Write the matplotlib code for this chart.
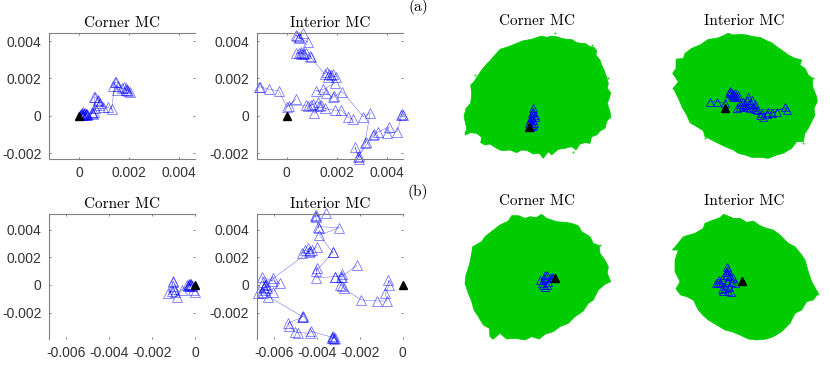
import numpy as np
import matplotlib
matplotlib.use('Agg')
import matplotlib.pyplot as plt

W, H = 830, 382
BLUE = '#0000ff'
GREEN = '#00cc00'
nan = float('nan')

# left panels, values in units of 1e-3
a_corner_x = [0.02, 0.09, 0.16, 0.19, 0.27, 0.12, 0.22, 0.05, 0.15, 0.25, 0.10, 0.32, 0.20, 0.30, 0.49, 0.59, 0.55, 0.52, 0.63, 0.60, 0.62, 0.76, 0.74, 0.83, 0.80, 0.96, 1.16, 1.29, 1.43, 1.45, 1.36, 1.56, 1.49, 1.69, 1.87, 1.90, 1.96, 1.79, 1.85, 2.03]
a_corner_y = [0.05, 0.12, 0.21, 0.09, 0.12, 0.05, 0.15, 0.10, 0.02, 0.05, 0.16, 0.04, 0.08, 0.10, 0.16, 0.21, 0.12, 0.18, 0.39, 1.02, 1.00, 0.84, 0.78, 0.66, 0.60, 0.48, 0.45, 0.34, 1.82, 1.78, 1.59, 1.59, 1.38, 1.46, 1.46, 1.40, 1.34, 1.52, 1.36, 1.29]

a_inner_x = [-1.12, -1.05, -0.71, -0.31, 0, 0.36, 0.09, 0.77, 0.85, 1.04, 0.98, 1.24, 1.37, 1.30, 1.10, 1.51, 1.91, 2.18, 2.45, 2.65, nan,
             0.47, 0.36, 0.42, 0.63, 0.50, 0.84, 0.63, 0.55, 0.36, 0.57, 0.50, 0.70, 0.77, 0.97, 0.92, 1.51, 1.60, 1.85, 1.70, 1.78, 1.98, 1.65, 1.91, 1.44, 1.17, 1.58, 1.85, 1.90, 2.22,
             3.06, 3.33, 3.12, 3.15, 2.86, 2.72, 2.90, 2.88, 3.46, 3.50, 3.66, 4.07, 4.00, 4.40, 4.61, 4.58, 4.66]
a_inner_y = [1.52, 1.55, 1.41, 1.34, 0.45, 0.89, 0.52, 0.57, 0.50, 0.63, 0.55, 0.75, 0.57, 0.50, 0.13, 0.39, 0.30, 0.30, -0.09, -0.20, nan,
             4.20, 4.32, 4.25, 4.41, 4.15, 3.96, 3.38, 3.30, 3.34, 3.43, 3.35, 3.30, 3.34, 3.16, 3.20, 2.23, 2.32, 2.23, 2.25, 2.18, 2.09, 2.10, 1.73, 1.41, 1.34, 1.20, 0.98, 1.05, 1.29,
             -0.05, 0.16, -1.48, -1.40, -2.20, -1.66, -2.29, -2.15, -1.04, -0.98, -0.86, -0.59, -0.95, -0.86, 0.09, 0.05, 0.03]

b_corner_x = [-0.08, 0, -0.15, -0.23, -0.30, -0.20, -0.25, -0.35, -0.28, -0.18, -0.33, -0.62, -0.85, -0.93, -1.24, -1.09, -1.00, -1.04, -1.04, -1.02]
b_corner_y = [-0.36, -0.48, -0.05, 0.05, 0, 0.10, -0.05, 0.02, 0.08, -0.02, -0.05, -0.36, -0.84, -0.48, -0.60, -0.43, -0.30, -0.10, 0.29, 0.20]

b_inner_x = [-0.68, -0.62, -0.81, -0.73, -1.20, -1.93, -2.75, -2.80, -2.91, -2.85, -3.14, -2.80, -2.82, -2.13, nan,
             -3.14, -4.04, -4.00, -4.02, -3.22, -3.25, -3.87, -2.94, -3.92, -3.90, -4.07, -4.02, -4.05, -3.58, nan,
             -4.00, -4.23, -4.39, -4.30, -4.70, -4.54, -4.35, -6.02, -6.10, -6.49, -6.41, -6.35, -6.45, -6.72, -6.56, -6.50, -6.40, -6.02, -5.71, -6.56, -6.33, -6.25,
             -4.65, -4.62, -4.68, -5.32, -5.28, -5.01, -4.85, -4.31, -4.28, -3.22, -3.29, -3.15, -3.25, -3.18, -3.30]
b_inner_y = [0.36, 0, -0.60, -1.16, -1.16, -1.08, -0.24, -0.10, 0, 0.60, 0.60, 0.77, 0.60, 1.45, nan,
             0.60, 0.53, 1.20, 1.00, 2.41, 2.35, 3.61, 4.14, 4.22, 4.15, 5.01, 5.05, 4.95, 5.18, nan,
             2.72, 2.53, 2.65, 2.45, 2.29, 2.53, 2.40, 0.48, 0.30, 0.24, 0, 0.10, -0.15, -0.60, -0.48, -0.55, -0.35, -0.48, 0.12, 0.60, -0.24, -0.84,
             -2.29, -2.25, -2.32, -2.77, -3.00, -3.37, -3.45, -3.49, -3.35, -3.81, -3.86, -3.80, -3.72, -3.88, -3.75]

# right panels (arbitrary units)
cloud_a1_x = [245, 262, 275, 290, 305, 320, 335, 350, 365, 380, 395, 405, 420, 432, 440, 438, 450, 455, 462, 470, 475, 472, 482, 478, 472, 480, 482, 470, 465, 452, 440, 425, 420, 405, 390, 378, 365, 345, 325, 305, 295, 280, 268, 250, 232, 215, 200, 180, 155, 140, 120, 105, 92, 95, 80, 62, 45, 50, 42, 48, 62, 65, 62, 72, 85, 95, 110, 122, 135, 150, 175, 200, 220]
cloud_a1_y = [118, 112, 108, 112, 108, 110, 115, 118, 118, 128, 130, 130, 140, 142, 152, 165, 180, 195, 210, 232, 250, 265, 278, 295, 310, 335, 350, 365, 385, 392, 405, 410, 430, 428, 432, 450, 440, 445, 448, 465, 455, 475, 460, 462, 452, 450, 458, 450, 452, 445, 432, 435, 428, 412, 400, 398, 405, 385, 350, 325, 310, 280, 255, 245, 225, 210, 192, 180, 165, 148, 140, 130, 122]
speck_a1_x = [315, 425, 475, 480, 370, 45, 45, 75]
speck_a1_y = [100, 135, 235, 350, 455, 395, 340, 225]
walk_a1_x = [248, 245, 255, 250, 240, 248, 240, 250, 255, 245, 238, 242, 252, 246]
walk_a1_y = [325, 340, 345, 335, 360, 375, 380, 360, 352, 350, 370, 355, 368, 378]
start_a1 = (238, 382)

cloud_a2_x = [265, 280, 300, 320, 340, 360, 380, 395, 410, 425, 445, 465, 485, 480, 495, 505, 518, 518, 530, 532, 522, 525, 515, 505, 495, 490, 470, 455, 430, 410, 385, 360, 335, 315, 295, 280, 255, 235, 215, 195, 190, 170, 150, 140, 128, 115, 100, 115, 98, 108, 108, 130, 135, 155, 180, 205, 230, 248]
cloud_a2_y = [100, 105, 103, 105, 110, 112, 122, 128, 140, 150, 165, 175, 180, 195, 205, 225, 235, 260, 290, 305, 325, 345, 365, 385, 400, 425, 425, 445, 460, 465, 475, 472, 472, 465, 460, 450, 440, 430, 420, 410, 392, 380, 368, 345, 325, 295, 265, 245, 220, 205, 178, 175, 160, 145, 135, 118, 115, 108]
speck_a2_x = [110, 98, 195, 490, 520]
speck_a2_y = [178, 265, 415, 430, 235]
walk_a2_x = [210, 230, 255, 268, 275, 270, 280, 285, 290, 295, 272, 278, 285, 300, 310, 320, 325, 330, 335, 315, 322, 340, 345, 300, 308, 330, 345, 360, 385, 370, 365, 380, 410, 395, 435, 440, 290, 350]
walk_a2_y = [305, 305, 310, 280, 285, 272, 290, 278, 290, 285, 275, 282, 288, 312, 305, 300, 292, 310, 300, 315, 322, 320, 312, 320, 318, 325, 328, 345, 335, 350, 340, 342, 335, 340, 322, 330, 325, 330]
start_a2 = (256, 325)

cloud_b1_x = [185, 205, 225, 240, 258, 275, 290, 320, 345, 365, 385, 395, 420, 430, 448, 450, 465, 475, 472, 482, 465, 445, 430, 415, 400, 375, 355, 330, 310, 285, 268, 245, 225, 195, 170, 150, 130, 120, 118, 100, 85, 72, 65, 55, 45, 48, 58, 65, 68, 95, 105, 130, 150, 175]
cloud_b1_y = [92, 92, 100, 95, 98, 88, 100, 110, 112, 115, 122, 140, 155, 175, 182, 205, 225, 245, 265, 290, 298, 315, 345, 355, 378, 395, 415, 425, 440, 448, 462, 455, 465, 460, 462, 445, 462, 455, 430, 420, 395, 375, 350, 325, 295, 270, 240, 205, 185, 170, 155, 135, 120, 108]
speck_b1_x = [70, 450, 125]
speck_b1_y = [188, 180, 458]
walk_b1_x = [285, 275, 285, 300, 295, 270, 310, 283, 290, 305, 278, 292]
walk_b1_y = [270, 295, 305, 280, 290, 285, 280, 280, 300, 275, 300, 270]
start_b1 = (316, 280)

cloud_b2_x = [250, 262, 280, 300, 320, 340, 360, 380, 400, 420, 445, 465, 485, 495, 505, 515, 535, 520, 500, 485, 465, 450, 425, 400, 380, 350, 325, 300, 275, 255, 230, 205, 190, 175, 160, 140, 122, 108, 120, 105, 105, 115, 98, 118, 130, 165, 190, 195, 220, 240]
cloud_b2_y = [88, 92, 100, 100, 112, 108, 122, 130, 135, 150, 175, 185, 210, 225, 260, 290, 325, 345, 350, 375, 385, 415, 440, 455, 462, 465, 462, 450, 440, 435, 420, 405, 392, 375, 345, 335, 330, 312, 290, 260, 225, 195, 195, 170, 155, 145, 130, 115, 105, 98]
speck_b2_x = [100, 110, 535]
speck_b2_y = [192, 310, 328]
walk_b2_x = [262, 265, 258, 260, 270, 262, 235, 228, 240, 245, 275, 268, 250, 245, 265, 272, 285, 262, 255, 278, 238]
walk_b2_y = [245, 255, 262, 270, 272, 290, 290, 295, 295, 282, 290, 305, 318, 312, 318, 322, 295, 260, 310, 280, 285]
start_b2 = (307, 288)


def px_axes(fig, left, top, right, bottom):
    return fig.add_axes([left / W, 1 - bottom / H, (right - left) / W, (bottom - top) / H])


def walk_panel(fig, box, x, y, xlim, ylim, xticks, yticks, title, bottom_line):
    ax = px_axes(fig, *box)
    ax.plot(x, y, color=BLUE, lw=0.3, alpha=0.7, marker='^', ms=7, mfc='none', mew=0.45, clip_on=False)
    ax.plot([0], [0], marker='^', ms=5.5, color='k', clip_on=False)
    ax.set_xlim(xlim)
    ax.set_ylim(ylim)
    ax.set_xticks(xticks)
    ax.set_yticks(yticks)
    ax.set_xticklabels(['0' if v == 0 else '%.3f' % (v / 1000) for v in xticks])
    ax.set_yticklabels(['0' if v == 0 else '%.3f' % (v / 1000) for v in yticks])
    ax.tick_params(direction='in', length=1.5, width=0.6, color='0.4', labelcolor='0.2',
                   labelsize=10, pad=5, top=True, right=True)
    ax.tick_params(axis='y', pad=5.5)
    for s in ['left', 'top', 'bottom', 'right']:
        ax.spines[s].set_color('0.5')
        ax.spines[s].set_linewidth(0.8)
    ax.spines['right'].set_visible(False)
    ax.spines['bottom'].set_visible(bottom_line)
    for lab in ax.get_xticklabels() + ax.get_yticklabels():
        lab.set_fontfamily('Liberation Sans')
    ax.set_title(title, fontfamily='cmr10', fontsize=11, pad=4.5)
    return ax


def cloud_panel(fig, box, cx, cy, sx, sy, wx, wy, start, title, title_x, title_y):
    ax = px_axes(fig, *box)
    ax.fill(cx, cy, color=GREEN, lw=0.5)
    ax.plot(sx, sy, ls='none', marker='s', ms=1.2, color=GREEN, mew=0)
    ax.plot(wx, wy, color=BLUE, lw=0.3, marker='^', ms=5.5, mfc='none', mew=0.55, ls='-')
    ax.plot(start[0], start[1], marker='^', ms=5.5, color='k')
    ax.set_xlim(0, (box[2] - box[0]) * 3)
    ax.set_ylim((box[3] - box[1]) * 3, 0)
    ax.axis('off')
    fig.text(title_x / W, 1 - title_y / H, title, fontfamily='cmr10', fontsize=11, ha='center', va='center')
    return ax


fig = plt.figure(figsize=(W / 100, H / 100), dpi=100)

xa = [0, 2, 4]
ya = [-2, 0, 2, 4]
xb = [-6, -4, -2, 0]
yb = [-2, 0, 2, 4]
lim_ax = (-1.2, 4.63)
lim_ay = (-2.3, 4.43)
lim_bx = (-6.79, 0)
lim_by = (-3.93, 5.11)

walk_panel(fig, (49.3, 33, 195, 158.7), a_corner_x, a_corner_y, lim_ax, lim_ay, xa, ya, 'Corner MC', True)
walk_panel(fig, (256.7, 33, 402.7, 158.7), a_inner_x, a_inner_y, lim_ax, lim_ay, xa, ya, 'Interior MC', True)
walk_panel(fig, (49.3, 214.3, 195, 339.3), b_corner_x, b_corner_y, lim_bx, lim_by, xb, yb, 'Corner MC', False)
walk_panel(fig, (256.7, 214.3, 402.7, 339.3), b_inner_x, b_inner_y, lim_bx, lim_by, xb, yb, 'Interior MC', False)

cloud_panel(fig, (450, 0, 640, 185), cloud_a1_x, cloud_a1_y, speck_a1_x, speck_a1_y, walk_a1_x, walk_a1_y, start_a1, 'Corner MC', 537, 21)
cloud_panel(fig, (640, 0, 830, 185), cloud_a2_x, cloud_a2_y, speck_a2_x, speck_a2_y, walk_a2_x, walk_a2_y, start_a2, 'Interior MC', 744, 21)
cloud_panel(fig, (450, 185, 640, 375), cloud_b1_x, cloud_b1_y, speck_b1_x, speck_b1_y, walk_b1_x, walk_b1_y, start_b1, 'Corner MC', 537, 201)
cloud_panel(fig, (640, 185, 830, 375), cloud_b2_x, cloud_b2_y, speck_b2_x, speck_b2_y, walk_b2_x, walk_b2_y, start_b2, 'Interior MC', 744, 201)

fig.text(418 / W, 1 - 7 / H, '(a)', fontfamily='cmr10', fontsize=11, ha='center', va='center')
fig.text(418 / W, 1 - 192 / H, '(b)', fontfamily='cmr10', fontsize=11, ha='center', va='center')

fig.savefig('out.png', dpi=100)
